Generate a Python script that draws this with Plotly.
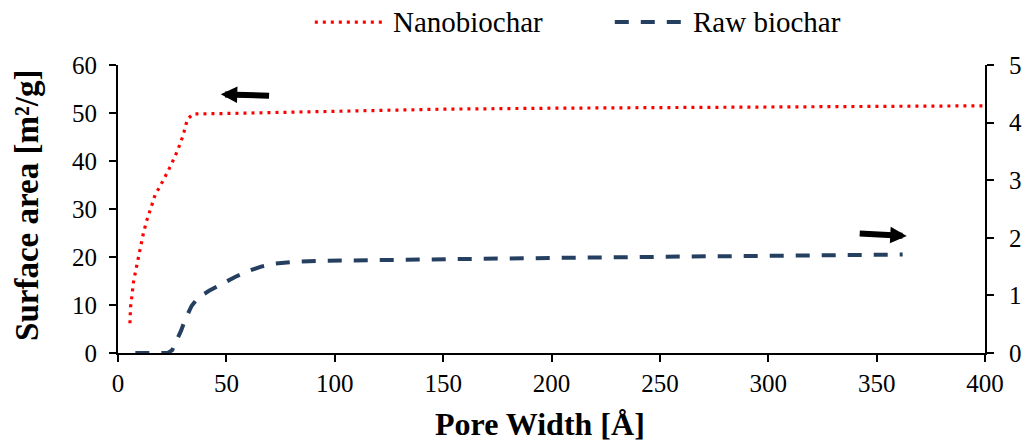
import plotly.graph_objects as go

# Pore width (Å) and cumulative surface area of the nanobiochar (left axis, m²/g)
nano_width = [5.5, 5.8, 6.5, 7.1, 8.6, 10.1, 11.7, 13.2, 14.8, 17.1, 20.9, 24.3,
              27.5, 30.1, 32.0, 34.7, 50, 75, 100, 150, 200, 250, 300, 350, 390, 400]
nano_area = [6.2, 9.6, 12.2, 14.7, 18.1, 21.5, 24.9, 27.5, 29.8, 32.9, 36.0, 39.0,
             42.2, 45.4, 48.7, 49.8, 49.9, 50.1, 50.4, 50.8, 51.0, 51.1, 51.2, 51.3,
             51.4, 51.5]

# Pore width (Å) and cumulative surface area of the raw biochar (right axis, m²/g)
raw_width = [8, 12, 16, 20, 23, 25, 27, 29, 31, 34, 37, 42, 48, 54, 60, 66, 72,
             80, 92, 120, 160, 200, 250, 300, 340, 362]
raw_area = [0, 0, 0, 0, 0, 0.05, 0.2, 0.38, 0.58, 0.82, 0.96, 1.08, 1.20, 1.32,
            1.42, 1.50, 1.55, 1.58, 1.60, 1.61, 1.62, 1.65, 1.67, 1.69, 1.70, 1.71]

series_names = ["Nanobiochar", "Raw biochar"]
x_title = "Pore Width [Å]"
y_title = "Surface area [m²/g]"
x_ticks = list(range(0, 401, 50))
left_ticks = list(range(0, 61, 10))
right_ticks = list(range(0, 6))

RED = "#FF0000"
NAVY = "#243F60"
FONT = "Liberation Serif, Times New Roman, serif"
DOT = "3px,5px"
DASH = "14px,12px"

fig = go.Figure()
fig.add_trace(go.Scatter(x=nano_width, y=nano_area, name=series_names[0], mode="lines",
                         line=dict(color=RED, width=3.2, dash=DOT), cliponaxis=False,
                         yaxis="y"))
fig.add_trace(go.Scatter(x=raw_width, y=raw_area, name=series_names[1], mode="lines",
                         line=dict(color=NAVY, width=4, dash=DASH), cliponaxis=False,
                         yaxis="y2"))

axis_common = dict(showline=True, linecolor="black", linewidth=2, ticks="outside",
                   ticklen=7, tickwidth=2, tickcolor="black", showgrid=False,
                   zeroline=False, automargin=False,
                   tickfont=dict(family=FONT, size=25, color="black"))

fig.update_layout(
    width=1026, height=444,
    margin=dict(l=118, r=41, t=65, b=91, autoexpand=False),
    paper_bgcolor="white", plot_bgcolor="white",
    showlegend=False,
    font=dict(family=FONT, color="black"),
    xaxis=dict(range=[0, 400], tickvals=x_ticks, **axis_common),
    yaxis=dict(range=[0, 60], tickvals=left_ticks, ticklabelstandoff=7, **axis_common),
    yaxis2=dict(range=[0, 5], tickvals=right_ticks, overlaying="y", side="right",
                ticklabelstandoff=10, **axis_common),
)

# Axis titles
fig.add_annotation(xref="paper", yref="paper", x=0.487, y=-0.2465, text=f"<b>{x_title}</b>",
                   showarrow=False, xanchor="center", yanchor="middle",
                   font=dict(family=FONT, size=32, color="black"))
fig.add_annotation(xref="paper", yref="paper", x=-0.105, y=0.514, text=f"<b>{y_title}</b>",
                   showarrow=False, xanchor="center", yanchor="middle", textangle=-90,
                   font=dict(family=FONT, size=33, color="black"))

# Legend drawn above the plot area
legend_items = [
    (series_names[0], RED, 3.2, DOT, 0.227, 0.307, 0.315),
    (series_names[1], NAVY, 4, DASH, 0.573, 0.655, 0.661),
]
for name, color, width, dash, x0, x1, xt in legend_items:
    fig.add_shape(type="line", xref="paper", yref="paper", x0=x0, x1=x1, y0=1.149, y1=1.149,
                  line=dict(color=color, width=width, dash=dash))
    fig.add_annotation(xref="paper", yref="paper", x=xt, y=1.149, text=name,
                       showarrow=False, xanchor="left", yanchor="middle",
                       font=dict(family=FONT, size=29, color="black"))

# Arrows pointing to the axis each curve belongs to
fig.add_annotation(x=47.4, y=53.9, ax=70.4, ay=53.6, xref="x", yref="y", axref="x", ayref="y",
                   text="", showarrow=True, arrowhead=2, arrowwidth=6, arrowsize=0.55,
                   arrowcolor="black", standoff=0)
fig.add_annotation(x=363.9, y=24.4, ax=341.5, ay=24.9, xref="x", yref="y", axref="x", ayref="y",
                   text="", showarrow=True, arrowhead=2, arrowwidth=6, arrowsize=0.55,
                   arrowcolor="black", standoff=0)

fig.write_html("out.html")
